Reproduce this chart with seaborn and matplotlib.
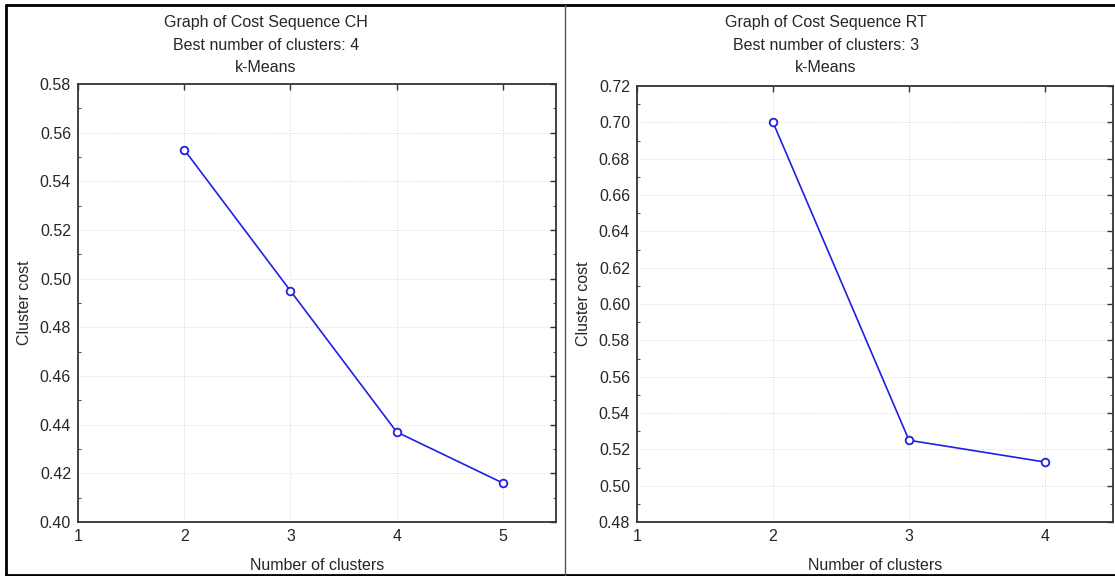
import numpy as np
import matplotlib
matplotlib.use('Agg')
import matplotlib.pyplot as plt
from matplotlib.lines import Line2D
from matplotlib.ticker import MultipleLocator
import pandas as pd
import seaborn as sns

# datos
clusters_ch = [2, 3, 4, 5]
costo_ch = [0.553, 0.495, 0.437, 0.416]
clusters_rt = [2, 3, 4]
costo_rt = [0.700, 0.525, 0.513]

titulos = [
    ['Graph of Cost Sequence CH', 'Best number of clusters: 4', 'k-Means'],
    ['Graph of Cost Sequence RT', 'Best number of clusters: 3', 'k-Means'],
]

sns.set_style('white')
plt.rcParams['font.family'] = ['Liberation Sans', 'DejaVu Sans']

W, H = 1115, 576
fig = plt.figure(figsize=(W / 100, H / 100), dpi=100)


def px_axes(left, top, right, bottom):
    return fig.add_axes([left / W, 1 - bottom / H, (right - left) / W, (bottom - top) / H])


def dibujar(ax, x, y, xlim, ylim):
    df = pd.DataFrame({'k': x, 'cost': y})
    sns.lineplot(data=df, x='k', y='cost', ax=ax, color='#1f1fe6', linewidth=1.2,
                 marker='o', markersize=5.5, markerfacecolor='white',
                 markeredgecolor='#1f1fe6', markeredgewidth=1.3)
    ax.set_xlim(*xlim)
    ax.set_ylim(*ylim)
    ax.xaxis.set_major_locator(MultipleLocator(1))
    ax.yaxis.set_major_locator(MultipleLocator(0.02))
    ax.yaxis.set_minor_locator(MultipleLocator(0.01))
    ax.yaxis.set_major_formatter(matplotlib.ticker.FormatStrFormatter('%.2f'))
    ax.tick_params(which='major', direction='in', length=4, width=1, color='#333333',
                   top=True, right=True, labelsize=11.5, pad=5)
    ax.tick_params(which='minor', direction='in', length=2.5, width=0.8, color='#555555',
                   right=True, left=True)
    ax.grid(True, which='major', linestyle=':', linewidth=0.7, color='#d6d6d6')
    for s in ax.spines.values():
        s.set_color('#333333')
        s.set_linewidth(1.3)
    ax.set_xlabel('Number of clusters', fontsize=11.5)
    ax.set_ylabel('Cluster cost', fontsize=11.5)


ax1 = px_axes(78, 84, 556, 522)
dibujar(ax1, clusters_ch, costo_ch, (1, 5.5), (0.40, 0.58))
ax1.xaxis.set_label_coords(0.5, -0.082)
ax1.yaxis.set_label_coords(-0.096, 0.5)

ax2 = px_axes(637, 86, 1113, 522)
dibujar(ax2, clusters_rt, costo_rt, (1, 4.5), (0.48, 0.72))
ax2.xaxis.set_label_coords(0.5, -0.082)
ax2.yaxis.set_label_coords(-0.097, 0.5)

# titulos en tres lineas
for cx, lineas in zip([266, 826], titulos):
    for cy, t in zip([23, 45, 67], lineas):
        fig.text(cx / W, 1 - cy / H, t, ha='center', va='center', fontsize=11.5)

# marco y separador
fig.add_artist(Line2D([6 / W, 6 / W], [1 - 5 / H, 1 - 575 / H], color='black', lw=2))
fig.add_artist(Line2D([6 / W, 1], [1 - 5 / H, 1 - 5 / H], color='black', lw=2))
fig.add_artist(Line2D([6 / W, 1], [1 - 575 / H, 1 - 575 / H], color='black', lw=2))
fig.add_artist(Line2D([565 / W, 565 / W], [1 - 5 / H, 1 - 575 / H], color='#555555', lw=1))

fig.savefig('out.png', dpi=100)
